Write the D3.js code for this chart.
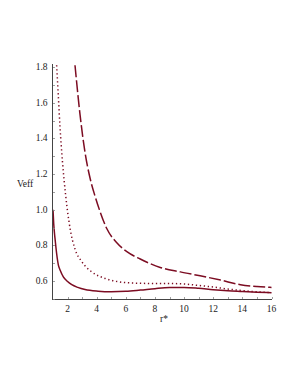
<!DOCTYPE html>
<html><head><meta charset="utf-8">
<script src="https://cdn.jsdelivr.net/npm/d3@7"></script>
<style>body{margin:0;background:#fff}svg{display:block}</style>
</head><body>
<script>
const solidR = [1, 1.05, 1.1, 1.15, 1.2, 1.37, 1.5, 1.71, 2.0, 2.29, 2.7, 3.2, 4.1, 5, 6, 7, 8, 9, 10, 11, 12, 13, 14, 15, 16];
const solidV = [1.0, 0.92, 0.87, 0.83, 0.79, 0.69, 0.66, 0.624, 0.598, 0.58, 0.565, 0.553, 0.544, 0.541, 0.543, 0.55, 0.558, 0.564, 0.565, 0.56, 0.552, 0.546, 0.542, 0.538, 0.535];
const dotR = [1.25, 1.35, 1.48, 1.65, 1.87, 2.17, 2.51, 2.97, 3.66, 4.58, 5.84, 7, 8, 9, 10, 11, 12, 13, 14, 15, 16];
const dotV = [1.81, 1.66, 1.465, 1.27, 1.08, 0.896, 0.78, 0.71, 0.652, 0.615, 0.593, 0.588, 0.587, 0.587, 0.584, 0.576, 0.567, 0.556, 0.547, 0.54, 0.536];
const dashR = [2.51, 2.86, 3.2, 3.55, 3.89, 4.23, 4.69, 5.38, 6.07, 6.99, 8.36, 9.74, 11.1, 12.5, 13.87, 15, 16];
const dashV = [1.81, 1.53, 1.32, 1.175, 1.075, 0.99, 0.895, 0.815, 0.765, 0.724, 0.677, 0.652, 0.63, 0.606, 0.58, 0.57, 0.565];
const xTicks = [2, 4, 6, 8, 10, 12, 14, 16];
const yTicks = [0.6, 0.8, 1.0, 1.2, 1.4, 1.6, 1.8];
const xLabel = "r*";
const yLabel = "Veff";

const W = 298, H = 385;
const svg = d3.select("body").append("svg").attr("width", W).attr("height", H);
const x = d3.scaleLinear().domain([1, 16]).range([53, 271.5]);
const y = d3.scaleLinear().domain([0.5, 1.8]).range([299, 67]);
const col = "#7c0c22";
const font = "Liberation Serif, Times New Roman, serif";

svg.append("defs").append("clipPath").attr("id", "cp")
  .append("rect").attr("x", 52).attr("y", 64).attr("width", 222).attr("height", 236);

const g = svg.append("g").attr("clip-path", "url(#cp)");
const line = d3.line().x(d => x(d[0])).y(d => y(d[1])).curve(d3.curveMonotoneX);
function draw(rs, vs, dash) {
  g.append("path").datum(rs.map((r, i) => [r, vs[i]]))
    .attr("d", line).attr("fill", "none").attr("stroke", col)
    .attr("stroke-width", 1.5).attr("stroke-dasharray", dash);
}
draw(solidR, solidV, null);
draw(dotR, dotV, "1.3,2.7");
draw(dashR, dashV, "12,3");

// axes
const axisCol = "#444";
svg.append("line").attr("x1", 52.5).attr("x2", 52.5).attr("y1", 64).attr("y2", 300)
  .attr("stroke", axisCol).attr("stroke-width", 1);
svg.append("line").attr("x1", 52).attr("x2", 272).attr("y1", 299.5).attr("y2", 299.5)
  .attr("stroke", axisCol).attr("stroke-width", 1);

// y ticks
const yMinor = d3.range(0.5, 1.81, 0.1);
svg.selectAll(".ymin").data(yMinor).enter().append("line")
  .attr("x1", 53).attr("x2", 55).attr("y1", d => Math.round(y(d)) + 0.5).attr("y2", d => Math.round(y(d)) + 0.5)
  .attr("stroke", "#888").attr("stroke-width", 0.8);
svg.selectAll(".yt").data(yTicks).enter().append("text")
  .attr("x", 47.5).attr("y", d => y(d) + 3).attr("text-anchor", "end")
  .attr("font-family", font).attr("font-size", 9.5).attr("fill", "#222")
  .text(d => d.toFixed(1));

// x ticks
const xMinor = d3.range(2, 16.1, 1);
svg.selectAll(".xmin").data(xMinor).enter().append("line")
  .attr("x1", d => Math.round(x(d)) + 0.5).attr("x2", d => Math.round(x(d)) + 0.5)
  .attr("y1", 299).attr("y2", 297)
  .attr("stroke", "#888").attr("stroke-width", 0.8);
svg.selectAll(".xt").data(xTicks).enter().append("text")
  .attr("x", d => x(d)).attr("y", 311.5).attr("text-anchor", "middle")
  .attr("font-family", font).attr("font-size", 9.5).attr("fill", "#222")
  .text(d => d);

svg.append("text").attr("x", 25).attr("y", 186.5).attr("text-anchor", "middle")
  .attr("font-family", font).attr("font-size", 9.5).attr("fill", "#222").text(yLabel);
svg.append("text").attr("x", 164).attr("y", 322).attr("text-anchor", "middle")
  .attr("font-family", font).attr("font-size", 9.5).attr("fill", "#222").text(xLabel);
</script>
</body></html>
